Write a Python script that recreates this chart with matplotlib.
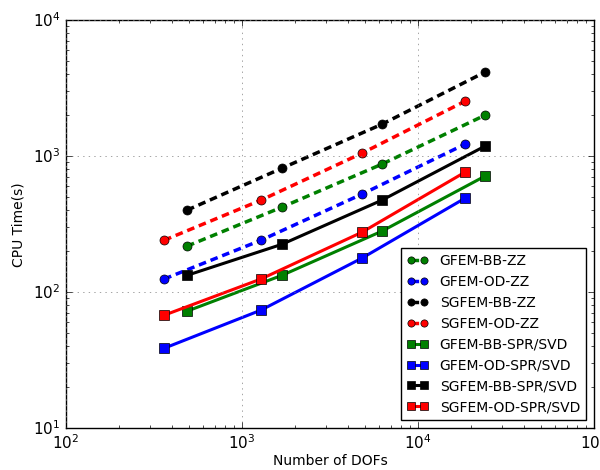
import matplotlib
matplotlib.use("Agg")
import matplotlib.pyplot as plt

plt.style.use('classic')

# degrees of freedom for the two enrichment choices
dofs_od = [361, 1282, 4805, 18500]
dofs_bb = [487, 1687, 6240, 24000]

# CPU times (s)
gfem_bb_zz = [218, 422, 874, 2000]
gfem_od_zz = [125, 241, 526, 1225]
sgfem_bb_zz = [401, 816, 1718, 4150]
sgfem_od_zz = [241, 475, 1052, 2535]
gfem_bb_spr = [72.5, 133, 281, 713]
gfem_od_spr = [38.7, 73.8, 178, 491]
sgfem_bb_spr = [133, 225, 475, 1185]
sgfem_od_spr = [67.7, 125, 276, 763]

fig = plt.figure(figsize=(6.0, 4.7), dpi=100, facecolor='white')
ax = fig.add_axes([0.11, 0.089, 0.88, 0.868])

zz = dict(lw=2.5, ms=6.5, mew=0.5, dashes=(5.5, 3.5))
spr = dict(lw=2.2, ms=6.5, mew=0.5)
ax.loglog(dofs_bb, gfem_bb_zz, 'g--o', label='GFEM-BB-ZZ', **zz)
ax.loglog(dofs_od, gfem_od_zz, 'b--o', label='GFEM-OD-ZZ', **zz)
ax.loglog(dofs_bb, sgfem_bb_zz, 'k--o', label='SGFEM-BB-ZZ', **zz)
ax.loglog(dofs_od, sgfem_od_zz, 'r--o', label='SGFEM-OD-ZZ', **zz)
ax.loglog(dofs_bb, gfem_bb_spr, 'g-s', label='GFEM-BB-SPR/SVD', **spr)
ax.loglog(dofs_od, gfem_od_spr, 'b-s', label='GFEM-OD-SPR/SVD', **spr)
ax.loglog(dofs_bb, sgfem_bb_spr, 'k-s', label='SGFEM-BB-SPR/SVD', **spr)
ax.loglog(dofs_od, sgfem_od_spr, 'r-s', label='SGFEM-OD-SPR/SVD', **spr)

ax.set_xlim(1e2, 1e5)
ax.set_ylim(1e1, 1e4)
ax.grid(True, which='major', color='gray', linestyle=':')
ax.tick_params(labelsize=11)
ax.set_xlabel('Number of DOFs', fontsize=10, labelpad=1)
ax.set_ylabel('CPU Time(s)', fontsize=10)
ax.legend(loc='lower right', fontsize=10, numpoints=2, markerscale=0.8,
          handlelength=1.6, borderaxespad=0.6)

fig.savefig('out.png', dpi=100, facecolor='white')
